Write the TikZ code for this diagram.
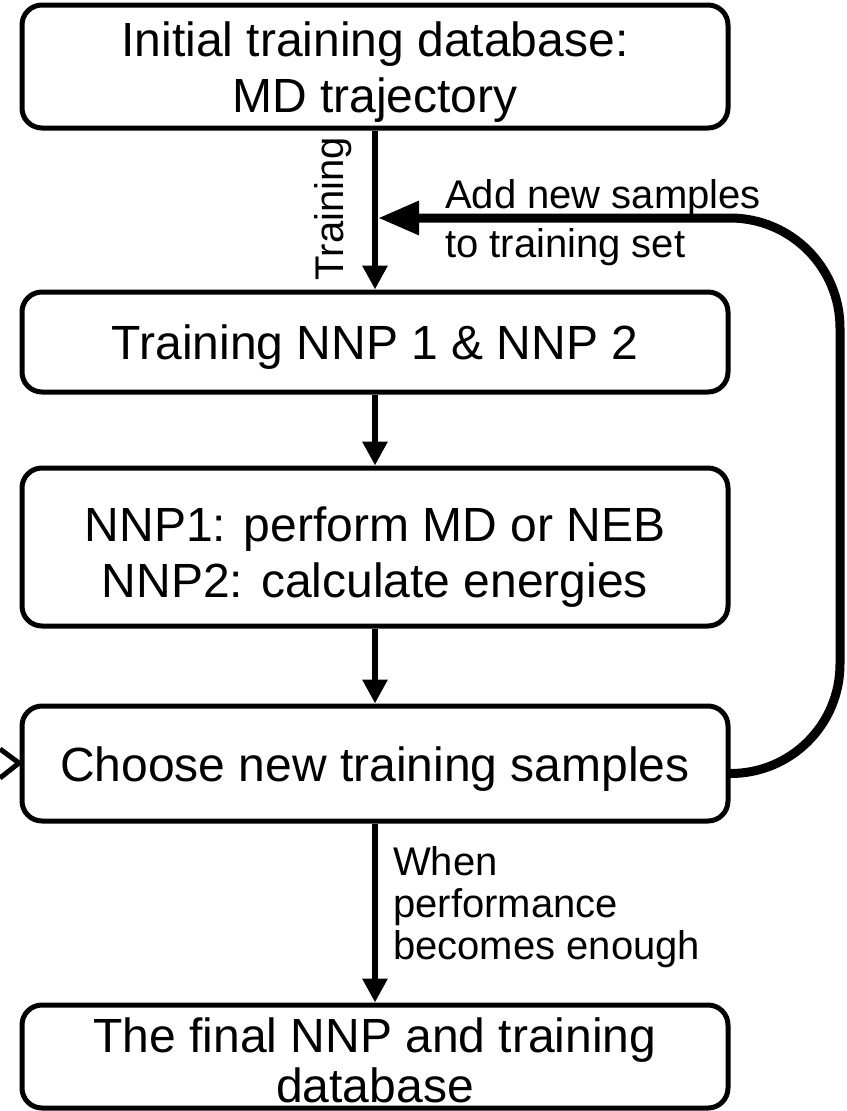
\documentclass[tikz,border=0pt]{standalone}
\usepackage{fontspec}
\setmainfont{Liberation Sans}
\usetikzlibrary{arrows.meta}
\newcommand{\myStrut}[1]{\rule{0pt}{#1}}
\begin{document}
\begin{tikzpicture}[x=1pt,y=-1pt,
  box/.style={draw, line width=5pt, rounded corners=20pt, minimum width=706pt, inner sep=0pt, align=center, font=\fontsize{48}{56}\selectfont},
  flow/.style={line width=6pt, -{Triangle[length=24pt,width=24pt]}},
  lbl/.style={font=\fontsize{40}{49}\selectfont, inner sep=0pt, align=left},
  loopline/.style={line width=9pt, rounded corners=110pt, -{Triangle[length=41pt,width=32pt]}}]
\useasboundingbox (0,0) rectangle (846,1111);
\node[box, minimum height=123pt] (b1) at (375,66.5) {\myStrut{46pt}Initial training database:\\MD trajectory};
\node[box, minimum height=100pt] (b2) at (375,342) {\myStrut{44pt}Training NNP 1 \& NNP 2};
\node[box, minimum height=158pt] (b3) at (375,547) {\myStrut{54pt}NNP1: perform MD or NEB\\NNP2: calculate energies};
\node[box, minimum height=115pt] (b4) at (375,763.5) {\myStrut{46pt}Choose new training samples};
\node[box, minimum height=103pt, font=\fontsize{48}{50}\selectfont] (b5) at (375,1056.5) {\myStrut{43pt}The final NNP and training\\database};
\draw[flow] (b1) -- (b2);
\draw[flow] (b2) -- (b3);
\draw[flow] (b3) -- (b4);
\draw[flow] (b4) -- (b5);
\coordinate (j) at (378,218);
\draw[loopline] ([yshift=-10pt]b4.east) -- (840,774) -- (840,218) -- (j);
\node[lbl, rotate=90, anchor=base] (tl) at (343,208.5) {Training};
\node[lbl, anchor=north west] (al) at (445,179) {Add new samples\\to training set};
\node[lbl, anchor=north west, font=\fontsize{40}{42}\selectfont] (wl) at (393,846) {When\\performance\\becomes enough};
\draw[line width=5pt, miter limit=10] (0,749) -- (19,763) -- (0,778);
\end{tikzpicture}
\end{document}
